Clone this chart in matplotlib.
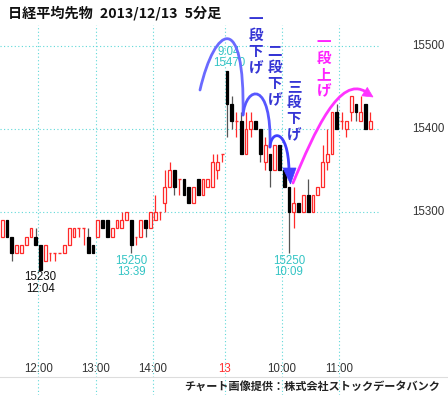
import matplotlib
matplotlib.use('Agg')
import matplotlib.pyplot as plt
from matplotlib.patches import PathPatch, Polygon
from matplotlib.path import Path
from matplotlib.transforms import blended_transform_factory

# ---------------- data (5-minute bars, 2013/12/12 11:20 .. 2013/12/13 11:30) -------------
opens = [15270, 15290, 15270, 15250, 15250, 15260, 15270, 15270, 15260, 15240,
         15250, 15250, 15250, 15250, 15260, 15270, 15280, 15280, 15270, 15260,
         15270, 15290, 15290, 15270, 15280, 15280, 15290, 15290, 15270, 15270,
         15290, 15280, 15290, 15300, 15310, 15330, 15350, 15340, 15340, 15330,
         15310, 15340, 15320, 15330, 15330, 15350, 15370,
         15470, 15430, 15410, 15410, 15370, 15400, 15410, 15400, 15360, 15370,
         15350, 15380, 15350, 15330, 15300, 15310, 15300, 15320, 15300, 15320,
         15330, 15360, 15370, 15420, 15410, 15400, 15420, 15430, 15410, 15430,
         15400]
highs = [15290, 15290, 15270, 15260, 15260, 15270, 15280, 15280, 15260, 15260,
         15250, 15250, 15250, 15260, 15280, 15280, 15280, 15280, 15280, 15260,
         15290, 15290, 15290, 15280, 15290, 15300, 15300, 15290, 15270, 15290,
         15290, 15300, 15320, 15300, 15350, 15360, 15350, 15340, 15340, 15330,
         15330, 15340, 15340, 15340, 15370, 15370, 15370,
         15470, 15440, 15420, 15420, 15420, 15420, 15410, 15400, 15390, 15370,
         15380, 15380, 15350, 15330, 15330, 15310, 15320, 15340, 15320, 15330,
         15380, 15400, 15420, 15430, 15420, 15410, 15440, 15430, 15440, 15430,
         15420]
lows = [15270, 15270, 15240, 15250, 15250, 15260, 15270, 15260, 15230, 15240,
        15240, 15240, 15250, 15250, 15260, 15270, 15270, 15260, 15250, 15250,
        15270, 15280, 15270, 15270, 15280, 15280, 15290, 15250, 15260, 15270,
        15270, 15280, 15290, 15290, 15300, 15330, 15320, 15320, 15320, 15310,
        15310, 15320, 15320, 15330, 15330, 15340, 15360,
        15390, 15400, 15390, 15370, 15370, 15390, 15400, 15360, 15350, 15330,
        15350, 15350, 15330, 15250, 15280, 15300, 15300, 15300, 15300, 15320,
        15330, 15350, 15370, 15400, 15400, 15390, 15410, 15410, 15410, 15400,
        15400]
closes = [15290, 15270, 15250, 15260, 15260, 15270, 15280, 15260, 15230, 15260,
          15250, 15250, 15250, 15260, 15280, 15280, 15280, 15280, 15250, 15250,
          15290, 15280, 15270, 15280, 15290, 15290, 15300, 15260, 15270, 15290,
          15280, 15300, 15300, 15300, 15330, 15350, 15330, 15340, 15320, 15310,
          15330, 15320, 15340, 15340, 15360, 15360, 15370,
          15430, 15410, 15410, 15370, 15400, 15410, 15400, 15370, 15380, 15350,
          15380, 15350, 15330, 15300, 15310, 15300, 15320, 15300, 15320, 15330,
          15360, 15370, 15420, 15400, 15410, 15410, 15440, 15420, 15420, 15400,
          15410]

xtick_idx = [8, 20, 32, 47, 59, 71]
xtick_labels = ['12:00', '13:00', '14:00', '13', '10:00', '11:00']
xtick_colors = ['#333333', '#333333', '#333333', '#ff3030', '#333333', '#333333']
yticks = [15300, 15400, 15500]

ext_idx = [47, 8, 27, 60]
ext_time = ['9:04', '12:04', '13:39', '10:09']
ext_kind = ['high', 'low', 'low', 'low']
ext_color = ['#33c4c4', '#111111', '#33c4c4', '#33c4c4']

title_parts = ['日経平均先物', '2013/12/13', '5分足']
footer = 'チャート画像提供：株式会社ストックデータバンク'
phase_texts = ['一段下げ', '二段下げ', '三段下げ', '一段上げ']

# ---------------- layout helpers (pixel <-> data) ----------------
W, H = 448, 395
X0, DX = 2.26, 4.78        # pixel x of bar 0, pixels per bar
PY0, DY = 211.7, 0.8285    # pixel y of 15300, pixels per yen


def P(px, py):
    return ((px - X0) / DX, 15300 + (PY0 - py) / DY)


fig = plt.figure(figsize=(W / 100, H / 100), dpi=100)
ax = fig.add_axes([0, 0, 1, 1])
ax.set_axis_off()
ax.set_xlim(P(0, 0)[0], P(W, 0)[0])
ax.set_ylim(P(0, H)[1], P(0, 0)[1])

CJK = ['Noto Sans CJK JP', 'DejaVu Sans']
NUM = ['Liberation Sans Narrow', 'Liberation Sans', 'DejaVu Sans']
grid_c = '#5fd8d8'

# grid
xr = P(380, 0)[0]
ax.hlines(yticks, P(0, 0)[0], xr, colors=grid_c, linewidth=0.8,
          linestyles=(0, (1, 2.2)), zorder=1)
for i in xtick_idx:
    ax.vlines(i - 0.45, P(0, H)[1], P(0, 25)[1], colors=grid_c, linewidth=0.8,
              linestyles=(0, (1, 2.2)), zorder=1)

# candles
bw = 0.58
for i, (o, h, l, c) in enumerate(zip(opens, highs, lows, closes)):
    up = c >= o
    wick_c = '#ff2a2a' if up else '#555555'
    ax.vlines(i, l, h, colors=wick_c, linewidth=0.9, zorder=2)
    if c == o:
        ax.hlines(o, i - bw / 2, i + bw / 2, colors='#ff2a2a' if up else 'black',
                  linewidth=1.0, zorder=3)
    elif up:
        ax.bar(i, c - o, bottom=o, width=bw, facecolor='white',
               edgecolor='#ff2a2a', linewidth=0.9, zorder=3)
    else:
        ax.bar(i, o - c, bottom=c, width=bw, facecolor='black',
               edgecolor='black', linewidth=0.9, zorder=3)

# extreme labels
for i, t, k, col in zip(ext_idx, ext_time, ext_kind, ext_color):
    if k == 'high':
        ax.annotate(f'{t}\n{highs[i]}', (i + 0.4, highs[i]), xytext=(0, 1),
                    textcoords='offset points', ha='center', va='bottom',
                    fontsize=8.3, color=col, family=NUM, linespacing=0.95,
                    zorder=6)
    else:
        ax.annotate(f'{lows[i]}\n{t}', (i, lows[i]), xytext=(0, -1),
                    textcoords='offset points', ha='center', va='top',
                    fontsize=8.3, color=col, family=NUM, linespacing=0.95,
                    zorder=6)

# axes labels
bt = blended_transform_factory(ax.transAxes, ax.transData)
for v in yticks:
    ax.text(428 / W, v, str(v), transform=bt, ha='center', va='center',
            fontsize=8.3, color='#333333', family=NUM)
bt2 = blended_transform_factory(ax.transData, ax.transAxes)
for i, lab, col in zip(xtick_idx, xtick_labels, xtick_colors):
    ax.text(i - 0.45, 1 - 369 / H, lab, transform=bt2, ha='center', va='center',
            fontsize=8.3, color=col, family=NUM)

# footer line and text
ax.axhline(P(0, 377)[1], color='#dddddd', linewidth=0.8, zorder=1)
ax.text(440 / W, 1 - 386 / H, footer, transform=ax.transAxes, ha='right',
        va='center', fontsize=8.0, fontweight='bold', color='#222222', family=CJK)
ax.text(8 / W, 1 - 13 / H, '\u2002'.join(title_parts) , transform=ax.transAxes,
        ha='left', va='center', fontsize=10.2, fontweight='bold', color='#111111',
        family=CJK)


# annotation curves
def curve(pts, color, lw):
    verts = [P(*p) for p in pts]
    path = Path(verts, [Path.MOVETO, Path.CURVE4, Path.CURVE4, Path.CURVE4])
    ax.add_patch(PathPatch(path, facecolor='none', edgecolor=color, lw=lw,
                           capstyle='round', zorder=7))


blue1, blue2, blue3 = '#6a6aff', '#5757ff', '#4040ff'
curve([(200, 90), (215, 25), (245, 10), (243, 115)], blue1, 2.0)
curve([(243, 115), (246, 85), (272, 80), (270, 147)], blue2, 2.0)
curve([(270, 147), (271, 130), (288, 128), (289, 170)], blue3, 2.0)
ax.add_patch(Polygon([P(283, 168), P(296, 168), P(290.5, 184)], closed=True,
                     facecolor=blue3, edgecolor=blue3, lw=0.5, zorder=7))
mag = '#ff33ff'
curve([(293, 183), (315, 130), (340, 75), (366, 92)], mag, 2.0)
ax.add_patch(Polygon([P(373, 97), P(361.9, 95.8), P(367.3, 87.4)], closed=True,
                     facecolor=mag, edgecolor=mag, lw=0.5, zorder=7))

# vertical phase texts
text_pos = [(256, 43), (275, 75), (294, 110), (324, 66)]
text_col = ['#3535d5', '#3535d5', '#3535d5', '#ff22ff']
for s, (px, py), col in zip(phase_texts, text_pos, text_col):
    x, y = P(px, py)
    ax.text(x, y, '\n'.join(s), ha='center', va='center', fontsize=10.5,
            fontweight='bold', color=col, family=CJK, linespacing=1.0, zorder=8)

fig.savefig('out.png', dpi=100)
